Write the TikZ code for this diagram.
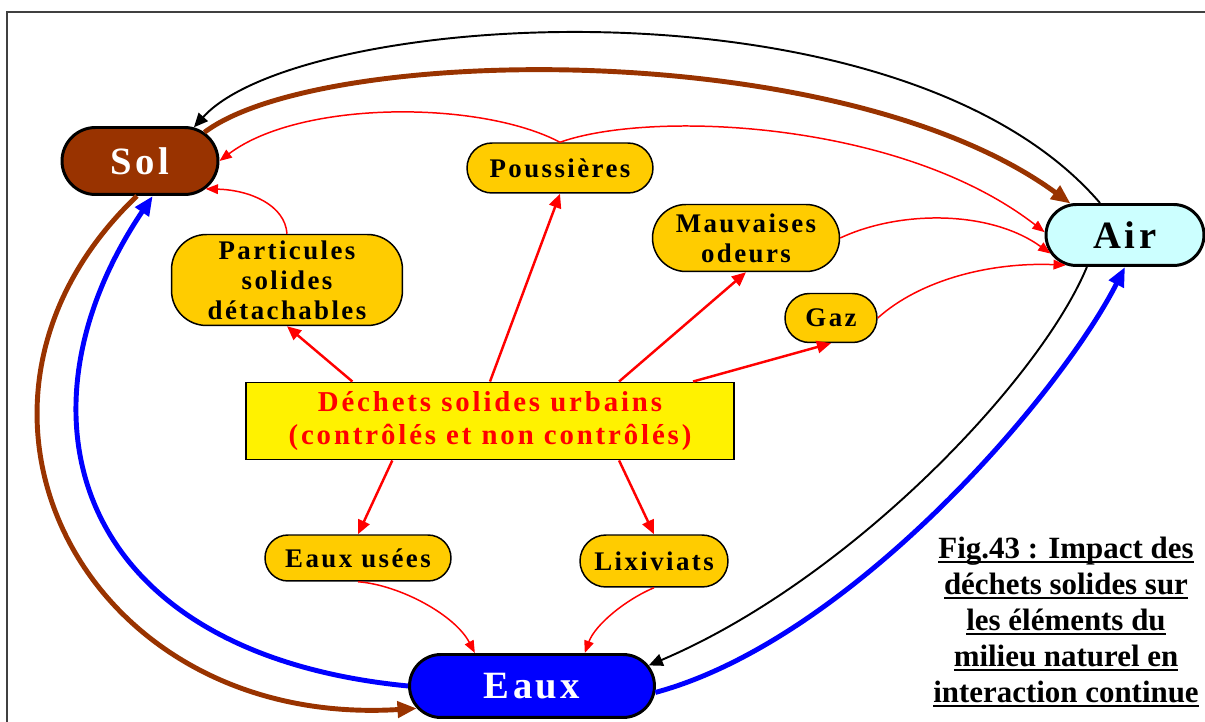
\documentclass[tikz,border=0pt]{standalone}
\usepackage{fontspec}
\setmainfont{Liberation Serif}
\newfontfamily\spaced{Liberation Serif}[LetterSpace=9]
\newfontfamily\spacedw{Liberation Serif}[LetterSpace=10]
\newcommand{\capline}[1]{\setbox0\hbox{#1}\rlap{\rule[-2.6pt]{\wd0}{1.1pt}}\box0}
\usetikzlibrary{arrows.meta,shapes.misc,calc}
\definecolor{solbrown}{HTML}{993300}
\definecolor{itemorange}{HTML}{FFCC00}
\definecolor{aircyan}{HTML}{CCFFFF}
\definecolor{framegray}{HTML}{404040}

\begin{document}
\begin{tikzpicture}[x=0.02cm,y=-0.02cm,
	pole/.style={rounded rectangle,draw=black,line width=1.7pt,inner sep=0pt,
		font={\spaced\bfseries\fontsize{22}{26}\selectfont}},
	item/.style={rounded rectangle,draw=black,line width=0.85pt,fill=itemorange,inner sep=0pt,
		align=center,font={\spaced\bfseries\fontsize{15.3}{17}\selectfont}},
	flow/.style={red,line width=1.4pt,-{Triangle[length=8pt,width=7pt]}},
	drift/.style={red,line width=0.85pt,-{Triangle[length=7pt,width=5.5pt]}},
	loopthick/.style={line width=2.8pt,-{Triangle[length=11pt,width=9pt]}},
	loopthin/.style={black,line width=1.1pt,-{Triangle[length=8pt,width=7pt]}}]
					            \useasboundingbox (0,0) rectangle (1205,722);
					            % Frame
					            \draw[framegray,line width=1.1pt] (7,722) -- (7,12) -- (1205,12);
					            % Media
					            \node[pole,fill=solbrown,text=white,minimum width=3.12cm,minimum height=1.34cm] (sol) at (140,161) {Sol};
					            \node[pole,fill=aircyan,minimum width=3.16cm,minimum height=1.22cm] (air) at (1125,235) {Air};
					            \node[pole,fill=blue,text=white,minimum width=4.9cm,minimum height=1.26cm] (eaux) at (532,686) {Eaux};
					            % Source
					            \node[draw=black,line width=1.1pt,fill=yellow,text=red,align=center,inner sep=0pt,
					            	minimum width=9.78cm,minimum height=1.54cm,
					            	font={\spacedw\bfseries\fontsize{16.4}{18.7}\selectfont}] (dech) at (490,421)
					            	{Déchets solides urbains\\(contrôlés et non contrôlés)};
					            % Emissions
					            \node[item,minimum width=3.72cm,minimum height=1.0cm] (pous) at (560,168) {Poussières};
					            \node[item,minimum width=3.74cm,minimum height=1.34cm] (mauv) at (746,238) {Mauvaises\\odeurs};
					            \node[item,minimum width=1.84cm,minimum height=0.98cm] (gaz) at (831,318) {Gaz};
					            \node[item,rectangle,rounded corners=0.7cm,minimum width=4.62cm,minimum height=1.82cm] (parti) at (287,280)
					            	{Particules\\solides\\détachables};
					            \node[item,minimum width=3.72cm,minimum height=0.92cm] (eu) at (358,558) {Eaux usées};
					            \node[item,minimum width=2.96cm,minimum height=1.04cm] (lix) at (654,561) {Lixiviats};
					            % Caption
					            \node[align=center,inner sep=0pt,font={\bfseries\fontsize{17.6}{20.4}\selectfont}] (fig) at (1066,622)
					            	{\capline{Fig.43 : Impact des}\\\capline{déchets solides sur}\\\capline{les éléments du}\\
					            	\capline{milieu naturel en}\\\capline{interaction continue}};
					            % Exchanges between the media
					            \draw[loopthin] (air.128) .. controls (900,-30) and (300,10) .. (sol.32);
					            \draw[loopthick,solbrown] (sol.24) .. controls (320,45) and (840,35) .. (air.150);
					            \draw[loopthin] (air.220) .. controls (1040,380) and (850,580) .. (eaux.10);
					            \draw[loopthick,blue] (eaux.-3) .. controls (850,640) and (1060,395) .. (air.south);
					            \draw[loopthick,solbrown] (sol.-95) .. controls (-82,405) and (83,729) .. (eaux.191);
					            \draw[loopthick,blue] (eaux.west) .. controls (70,653) and (7,412) .. (sol.-70);
					            % From the waste
					            \draw[flow] (dech.164) -- (parti.south);
					            \draw[flow] (dech.north) -- (pous.south);
					            \draw[flow] (dech.17) -- (mauv.south);
					            \draw[flow] (dech.11) -- (gaz.south);
					            \draw[flow] (dech.202) -- (eu.north);
					            \draw[flow] (dech.-17) -- (lix.north);
					            % Towards the media
					            \draw[drift] (pous.north) .. controls (480,100) and (300,100) .. (sol.east);
					            \draw[drift] (pous.north) .. controls (650,110) and (900,120) .. (air.178);
					            \draw[drift] (mauv.east) .. controls (900,210) and (990,210) .. (air.194);
					            \draw[drift] (gaz.east) .. controls (920,280) and (990,262) .. (air.207);
					            \draw[drift] (parti.north) .. controls (285,205) and (250,190) .. (sol.-23);
					            \draw[drift] (eu.south) .. controls (400,585) and (455,615) .. (eaux.150);
					            \draw[drift] (lix.south) .. controls (625,600) and (595,625) .. (eaux.32);
				            \end{tikzpicture}
\end{document}
